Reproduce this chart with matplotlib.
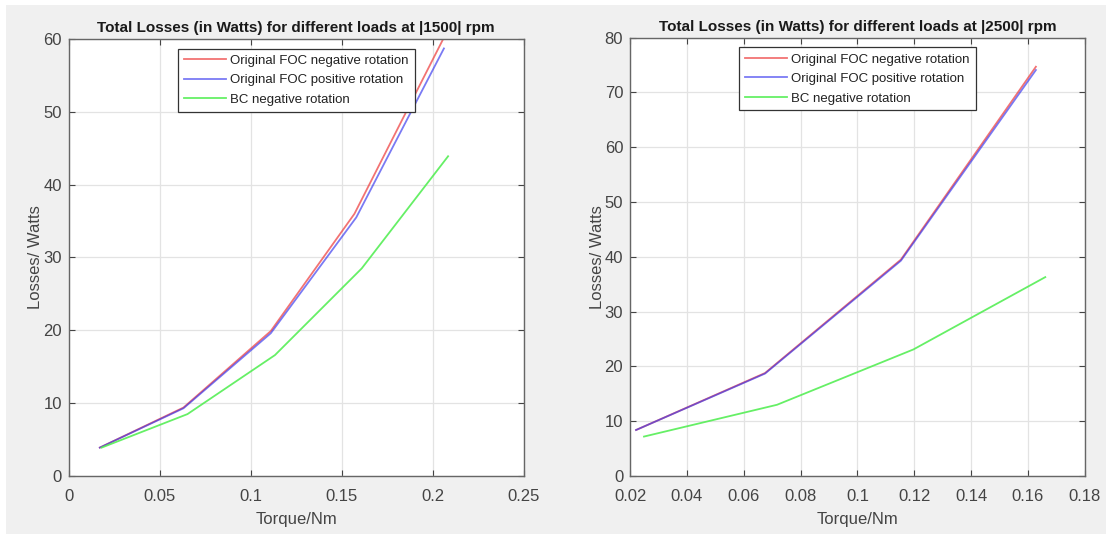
import matplotlib.pyplot as plt
from matplotlib.patches import Rectangle

plt.rcParams['font.family'] = ['Liberation Sans', 'DejaVu Sans']

# Total losses at |1500| rpm
torque_1500_neg = [0.017, 0.063, 0.111, 0.157, 0.2056]
loss_1500_neg = [3.9, 9.4, 19.9, 36.0, 59.9]
torque_1500_pos = [0.017, 0.063, 0.111, 0.158, 0.2062]
loss_1500_pos = [3.9, 9.3, 19.6, 35.5, 58.7]
torque_1500_bc = [0.018, 0.0652, 0.1133, 0.161, 0.2085]
loss_1500_bc = [3.9, 8.5, 16.6, 28.5, 43.9]

# Total losses at |2500| rpm
torque_2500_neg = [0.0221, 0.0675, 0.1153, 0.1628]
loss_2500_neg = [8.4, 18.8, 39.5, 74.7]
torque_2500_pos = [0.0221, 0.0675, 0.1153, 0.1628]
loss_2500_pos = [8.4, 18.7, 39.3, 74.1]
torque_2500_bc = [0.0249, 0.0717, 0.1197, 0.1661]
loss_2500_bc = [7.2, 13.0, 23.1, 36.3]

labels = ['Original FOC negative rotation', 'Original FOC positive rotation', 'BC negative rotation']
colors = ['#ee4444', '#3333ee', '#55ee55']

fig = plt.figure(figsize=(11.06, 5.34), dpi=100)
fig.patches.append(Rectangle((0.0054, 0), 1, 0.9906, transform=fig.transFigure,
                             facecolor='#f0f0f0', edgecolor='none', zorder=-10))

ax1 = fig.add_axes([0.0623, 0.1086, 0.4111, 0.8184])
ax2 = fig.add_axes([0.5697, 0.1086, 0.4111, 0.8208])


def style(ax, rpm, xlim, xticks, ylim, yticks):
    ax.set_xlim(*xlim)
    ax.set_ylim(*ylim)
    ax.set_xticks(xticks)
    ax.set_yticks(yticks)
    ax.set_xticklabels([('%g' % t) for t in xticks])
    ax.grid(True, color='#e3e3e3', linewidth=0.9)
    ax.set_axisbelow(True)
    ax.tick_params(direction='in', top=True, right=True, length=4,
                   labelsize=12, colors='#444444')
    ax.tick_params(axis='x', pad=9)
    ax.tick_params(axis='y', pad=5)
    for s in ax.spines.values():
        s.set_color('#666666')
        s.set_linewidth(1.0)
    ax.set_title('Total Losses (in Watts) for different loads at |%d| rpm' % rpm,
                 fontsize=11, fontweight='bold', color='#1a1a1a', pad=5)
    ax.set_xlabel('Torque/Nm', fontsize=12, color='#444444', labelpad=6)
    ax.set_ylabel('Losses/ Watts', fontsize=12, color='#444444', labelpad=0)
    leg = ax.legend(loc='upper center', bbox_to_anchor=(0.5, 0.978), fontsize=9.5,
                    frameon=True, fancybox=False, framealpha=1, edgecolor='#333333',
                    handlelength=3.2, handletextpad=0.3, borderpad=0.45,
                    labelspacing=0.55, borderaxespad=0)
    leg.get_frame().set_linewidth(0.9)
    for t in leg.get_texts():
        t.set_color('#222222')


ax1.plot(torque_1500_neg, loss_1500_neg, color=colors[0], lw=1.3, alpha=0.75, label=labels[0])
ax1.plot(torque_1500_pos, loss_1500_pos, color=colors[1], lw=1.3, alpha=0.65, label=labels[1])
ax1.plot(torque_1500_bc, loss_1500_bc, color=colors[2], lw=1.3, alpha=0.9, label=labels[2])
style(ax1, 1500, (0, 0.25), [0, 0.05, 0.1, 0.15, 0.2, 0.25], (0, 60), range(0, 61, 10))

ax2.plot(torque_2500_neg, loss_2500_neg, color=colors[0], lw=1.3, alpha=0.75, label=labels[0])
ax2.plot(torque_2500_pos, loss_2500_pos, color=colors[1], lw=1.3, alpha=0.65, label=labels[1])
ax2.plot(torque_2500_bc, loss_2500_bc, color=colors[2], lw=1.3, alpha=0.9, label=labels[2])
style(ax2, 2500, (0.02, 0.18), [0.02, 0.04, 0.06, 0.08, 0.1, 0.12, 0.14, 0.16, 0.18],
      (0, 80), range(0, 81, 10))

fig.savefig('out.png', dpi=100)
